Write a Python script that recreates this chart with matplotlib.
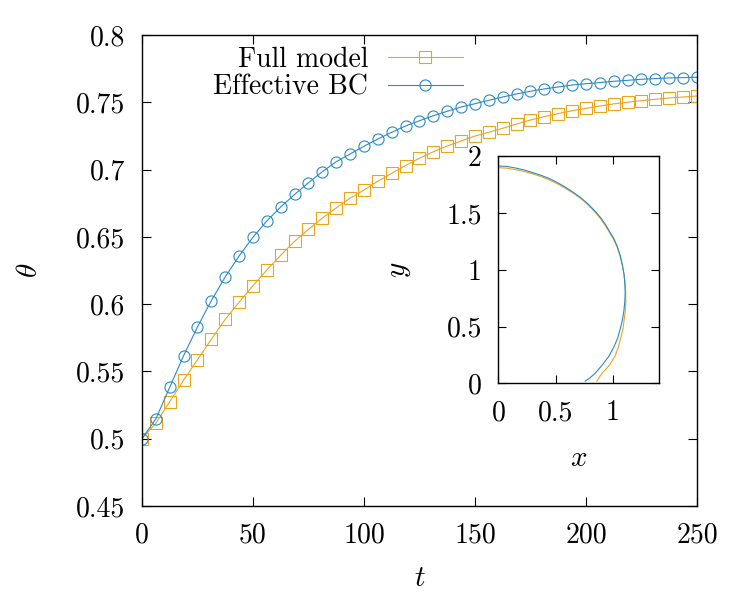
import matplotlib
matplotlib.use("Agg")
import matplotlib.pyplot as plt

plt.rcParams['font.family'] = 'serif'
plt.rcParams['font.serif'] = ['cmr10']
plt.rcParams['mathtext.fontset'] = 'cm'
plt.rcParams['axes.unicode_minus'] = False

# time samples (every 6.25)
t = [0, 6.25, 12.5, 18.75, 25, 31.25, 37.5, 43.75, 50, 56.25, 62.5, 68.75,
     75, 81.25, 87.5, 93.75, 100, 106.25, 112.5, 118.75, 125, 131.25, 137.5,
     143.75, 150, 156.25, 162.5, 168.75, 175, 181.25, 187.5, 193.75, 200,
     206.25, 212.5, 218.75, 225, 231.25, 237.5, 243.75, 250]

theta_full = [0.5, 0.5115, 0.5275, 0.5434, 0.5587, 0.5739, 0.5887, 0.6014,
              0.6137, 0.6254, 0.6363, 0.6467, 0.6555, 0.6640, 0.6715, 0.6787,
              0.6848, 0.6913, 0.6972, 0.7030, 0.7084, 0.7132, 0.7175, 0.7212,
              0.7249, 0.7277, 0.7307, 0.7339, 0.7368, 0.7393, 0.7416, 0.7437,
              0.7455, 0.7472, 0.7488, 0.7500, 0.7512, 0.7522, 0.7532, 0.7539,
              0.7547]

theta_eff = [0.5, 0.5147, 0.5382, 0.5617, 0.5830, 0.6026, 0.6202, 0.6358,
             0.6497, 0.6618, 0.6722, 0.6815, 0.6902, 0.6984, 0.7058, 0.7116,
             0.7173, 0.7227, 0.7277, 0.7324, 0.7363, 0.7400, 0.7433, 0.7465,
             0.7489, 0.7515, 0.7539, 0.7562, 0.7582, 0.7599, 0.7614, 0.7628,
             0.7638, 0.7646, 0.7656, 0.7663, 0.7671, 0.7676, 0.7681, 0.7683,
             0.7686]

# droplet shapes for the inset
x_full = [0.000, 0.073, 0.146, 0.220, 0.293, 0.366, 0.439, 0.512, 0.585, 0.658,
          0.731, 0.790, 0.845, 0.890, 0.933, 1.005, 1.037, 1.062, 1.082, 1.097,
          1.107, 1.112, 1.113, 1.108, 1.098, 1.088, 1.068, 1.048, 1.018, 0.970,
          0.905, 0.878, 0.860]
y_full = [1.897, 1.893, 1.880, 1.865, 1.845, 1.821, 1.792, 1.757, 1.716, 1.670,
          1.617, 1.563, 1.505, 1.450, 1.390, 1.268, 1.200, 1.120, 1.040, 0.960,
          0.880, 0.800, 0.720, 0.640, 0.560, 0.480, 0.400, 0.320, 0.240, 0.160,
          0.090, 0.050, 0.020]

x_eff = [0.000, 0.073, 0.146, 0.220, 0.293, 0.366, 0.439, 0.512, 0.585, 0.658,
         0.731, 0.792, 0.848, 0.895, 0.936, 1.009, 1.040, 1.065, 1.083, 1.097,
         1.104, 1.107, 1.104, 1.096, 1.083, 1.064, 1.042, 1.008, 0.965, 0.905,
         0.845, 0.800, 0.757]
y_eff = [1.912, 1.908, 1.895, 1.878, 1.856, 1.832, 1.804, 1.768, 1.725, 1.678,
         1.623, 1.569, 1.511, 1.455, 1.395, 1.272, 1.200, 1.120, 1.040, 0.960,
         0.880, 0.800, 0.720, 0.640, 0.560, 0.480, 0.400, 0.320, 0.240, 0.160,
         0.090, 0.050, 0.020]

main_xticks = [0, 50, 100, 150, 200, 250]
main_yticks = [0.45, 0.5, 0.55, 0.6, 0.65, 0.7, 0.75, 0.8]
main_ylabels = ['0.45', '0.5', '0.55', '0.6', '0.65', '0.7', '0.75', '0.8']
inset_xticks = [0, 0.5, 1]
inset_xlabels = ['0', '0.5', '1']
inset_yticks = [0, 0.5, 1, 1.5, 2]
inset_ylabels = ['0', '0.5', '1', '1.5', '2']

orange = '#e9a420'
blue = '#2a8bc4'
fs = 20

fig = plt.figure(figsize=(7.48, 5.99), dpi=100)
ax = fig.add_axes([0.1898, 0.1553, 0.7420, 0.7863])

ax.plot(t, theta_full, color=orange, lw=0.8, marker='s', ms=8,
        mfc='none', mew=0.8, label='Full model')
ax.plot(t, theta_eff, color=blue, lw=0.8, marker='o', ms=8,
        mfc='none', mew=0.8, label='Effective BC')

ax.set_xlim(0, 250)
ax.set_ylim(0.45, 0.8)
ax.set_xticks(main_xticks)
ax.set_xticklabels([str(v) for v in main_xticks])
ax.set_yticks(main_yticks)
ax.set_yticklabels(main_ylabels)
ax.tick_params(direction='in', length=6.5, width=0.8, labelsize=fs,
               top=True, right=True, pad=12)
for s in ax.spines.values():
    s.set_linewidth(1.0)
ax.set_xlabel('$t$', fontsize=fs + 1, labelpad=12)
ax.set_ylabel(r'$\theta$', fontsize=fs + 1, labelpad=24)

ax.legend(loc='upper right', bbox_to_anchor=(0.578, 0.975), frameon=False,
          markerfirst=False, fontsize=fs, handlelength=2.7, handletextpad=0.7,
          labelspacing=0.05, borderaxespad=0.0, borderpad=0.0)

ins = fig.add_axes([0.6664, 0.3598, 0.2142, 0.3798])
ins.plot(x_full, y_full, color=orange, lw=0.8)
ins.plot(x_eff, y_eff, color=blue, lw=0.8)
ins.set_xlim(0, 1.4)
ins.set_ylim(0, 2)
ins.set_xticks(inset_xticks)
ins.set_xticklabels(inset_xlabels)
ins.set_yticks(inset_yticks)
ins.set_yticklabels(inset_ylabels)
ins.tick_params(direction='in', length=6, width=0.8, labelsize=fs,
                top=True, right=True, pad=12)
for s in ins.spines.values():
    s.set_linewidth(1.0)
ins.set_xlabel('$x$', fontsize=fs + 1, labelpad=14)
ins.set_ylabel('$y$', fontsize=fs + 1, labelpad=24)

fig.savefig('out.png', dpi=100)
